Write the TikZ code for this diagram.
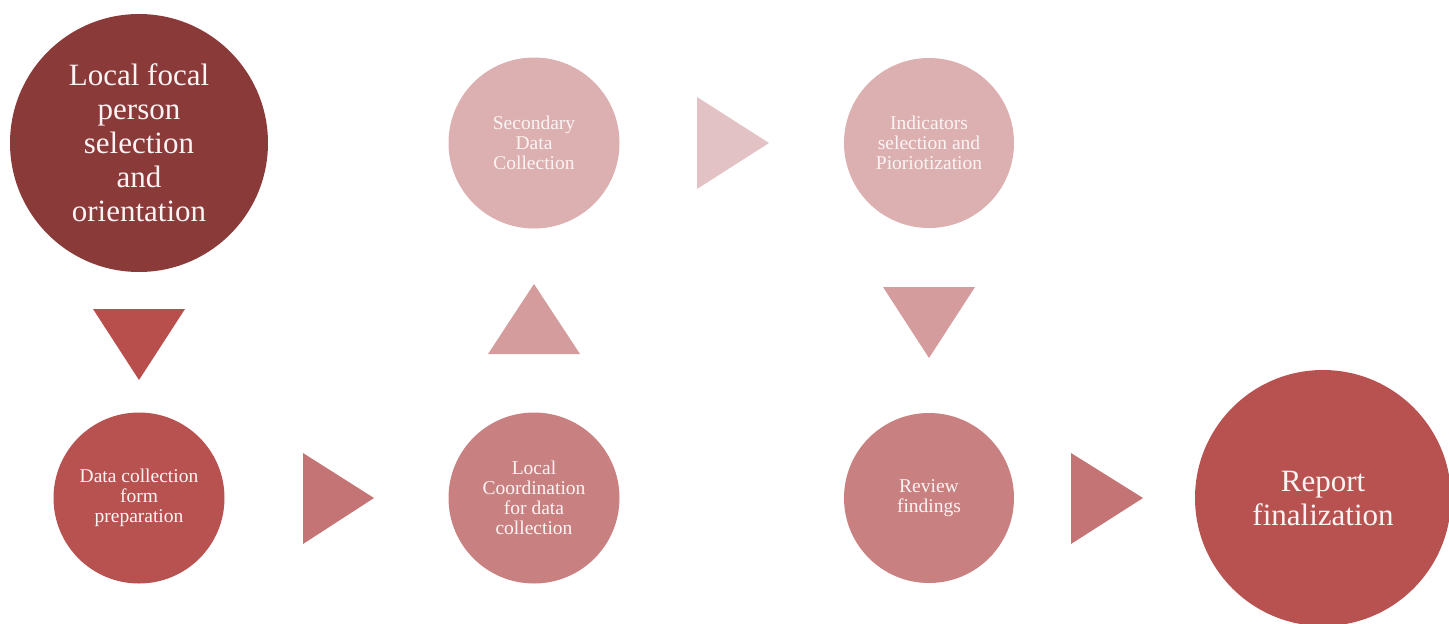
\documentclass[tikz,border=0pt]{standalone}
\usepackage{fontspec}
\setmainfont{Liberation Serif}
\definecolor{cA}{RGB}{139,58,58}
\definecolor{cB}{RGB}{184,82,80}
\definecolor{cC}{RGB}{201,128,128}
\definecolor{cD}{RGB}{220,176,176}
\definecolor{tA}{RGB}{184,79,77}
\definecolor{tB}{RGB}{196,116,116}
\definecolor{tC}{RGB}{212,156,156}
\definecolor{tD}{RGB}{226,194,196}
\definecolor{txt}{RGB}{252,244,244}
\begin{document}
\begin{tikzpicture}[x=1pt,y=-1pt,
  stepcirc/.style={circle,inner sep=0pt,text=txt,align=center},
  bigtext/.style={font=\fontsize{31}{34}\selectfont},
  smalltext/.style={font=\fontsize{19.5}{20}\selectfont}]
\useasboundingbox (0,0) rectangle (1449,624);
\clip (0,0) rectangle (1449,624);
% circles
\node[stepcirc,fill=cA,minimum size=258pt,bigtext] (n1) at (139,143) {Local focal\\person\\selection\\and\\orientation};
\node[stepcirc,fill=cB,minimum size=171pt,smalltext] (n2) at (139,498) {Data collection\\form\\preparation};
\node[stepcirc,fill=cC,minimum size=171pt,smalltext] (n3) at (534,498) {Local\\Coordination\\for data\\collection};
\node[stepcirc,fill=cD,minimum size=171pt,smalltext] (n4) at (534,143) {Secondary\\Data\\Collection};
\node[stepcirc,fill=cD,minimum size=170pt,smalltext] (n5) at (929,143) {Indicators\\selection and\\Pioriotization};
\node[stepcirc,fill=cC,minimum size=170pt,smalltext] (n6) at (929,498) {Review\\findings};
\node[stepcirc,fill=cB,minimum size=256pt,bigtext] (n7) at (1323,498) {Report\\finalization};
% triangles (arrows)
\fill[tA] (93,309) -- (185,309) -- (139,380) -- cycle;
\fill[tB] (303,453) -- (374,498) -- (303,544) -- cycle;
\fill[tC] (488,354) -- (580,354) -- (534,284) -- cycle;
\fill[tD] (697,97) -- (769,143) -- (697,189) -- cycle;
\fill[tC] (883,287) -- (975,287) -- (929,358) -- cycle;
\fill[tB] (1071,453) -- (1143,498) -- (1071,544) -- cycle;
\end{tikzpicture}
\end{document}
